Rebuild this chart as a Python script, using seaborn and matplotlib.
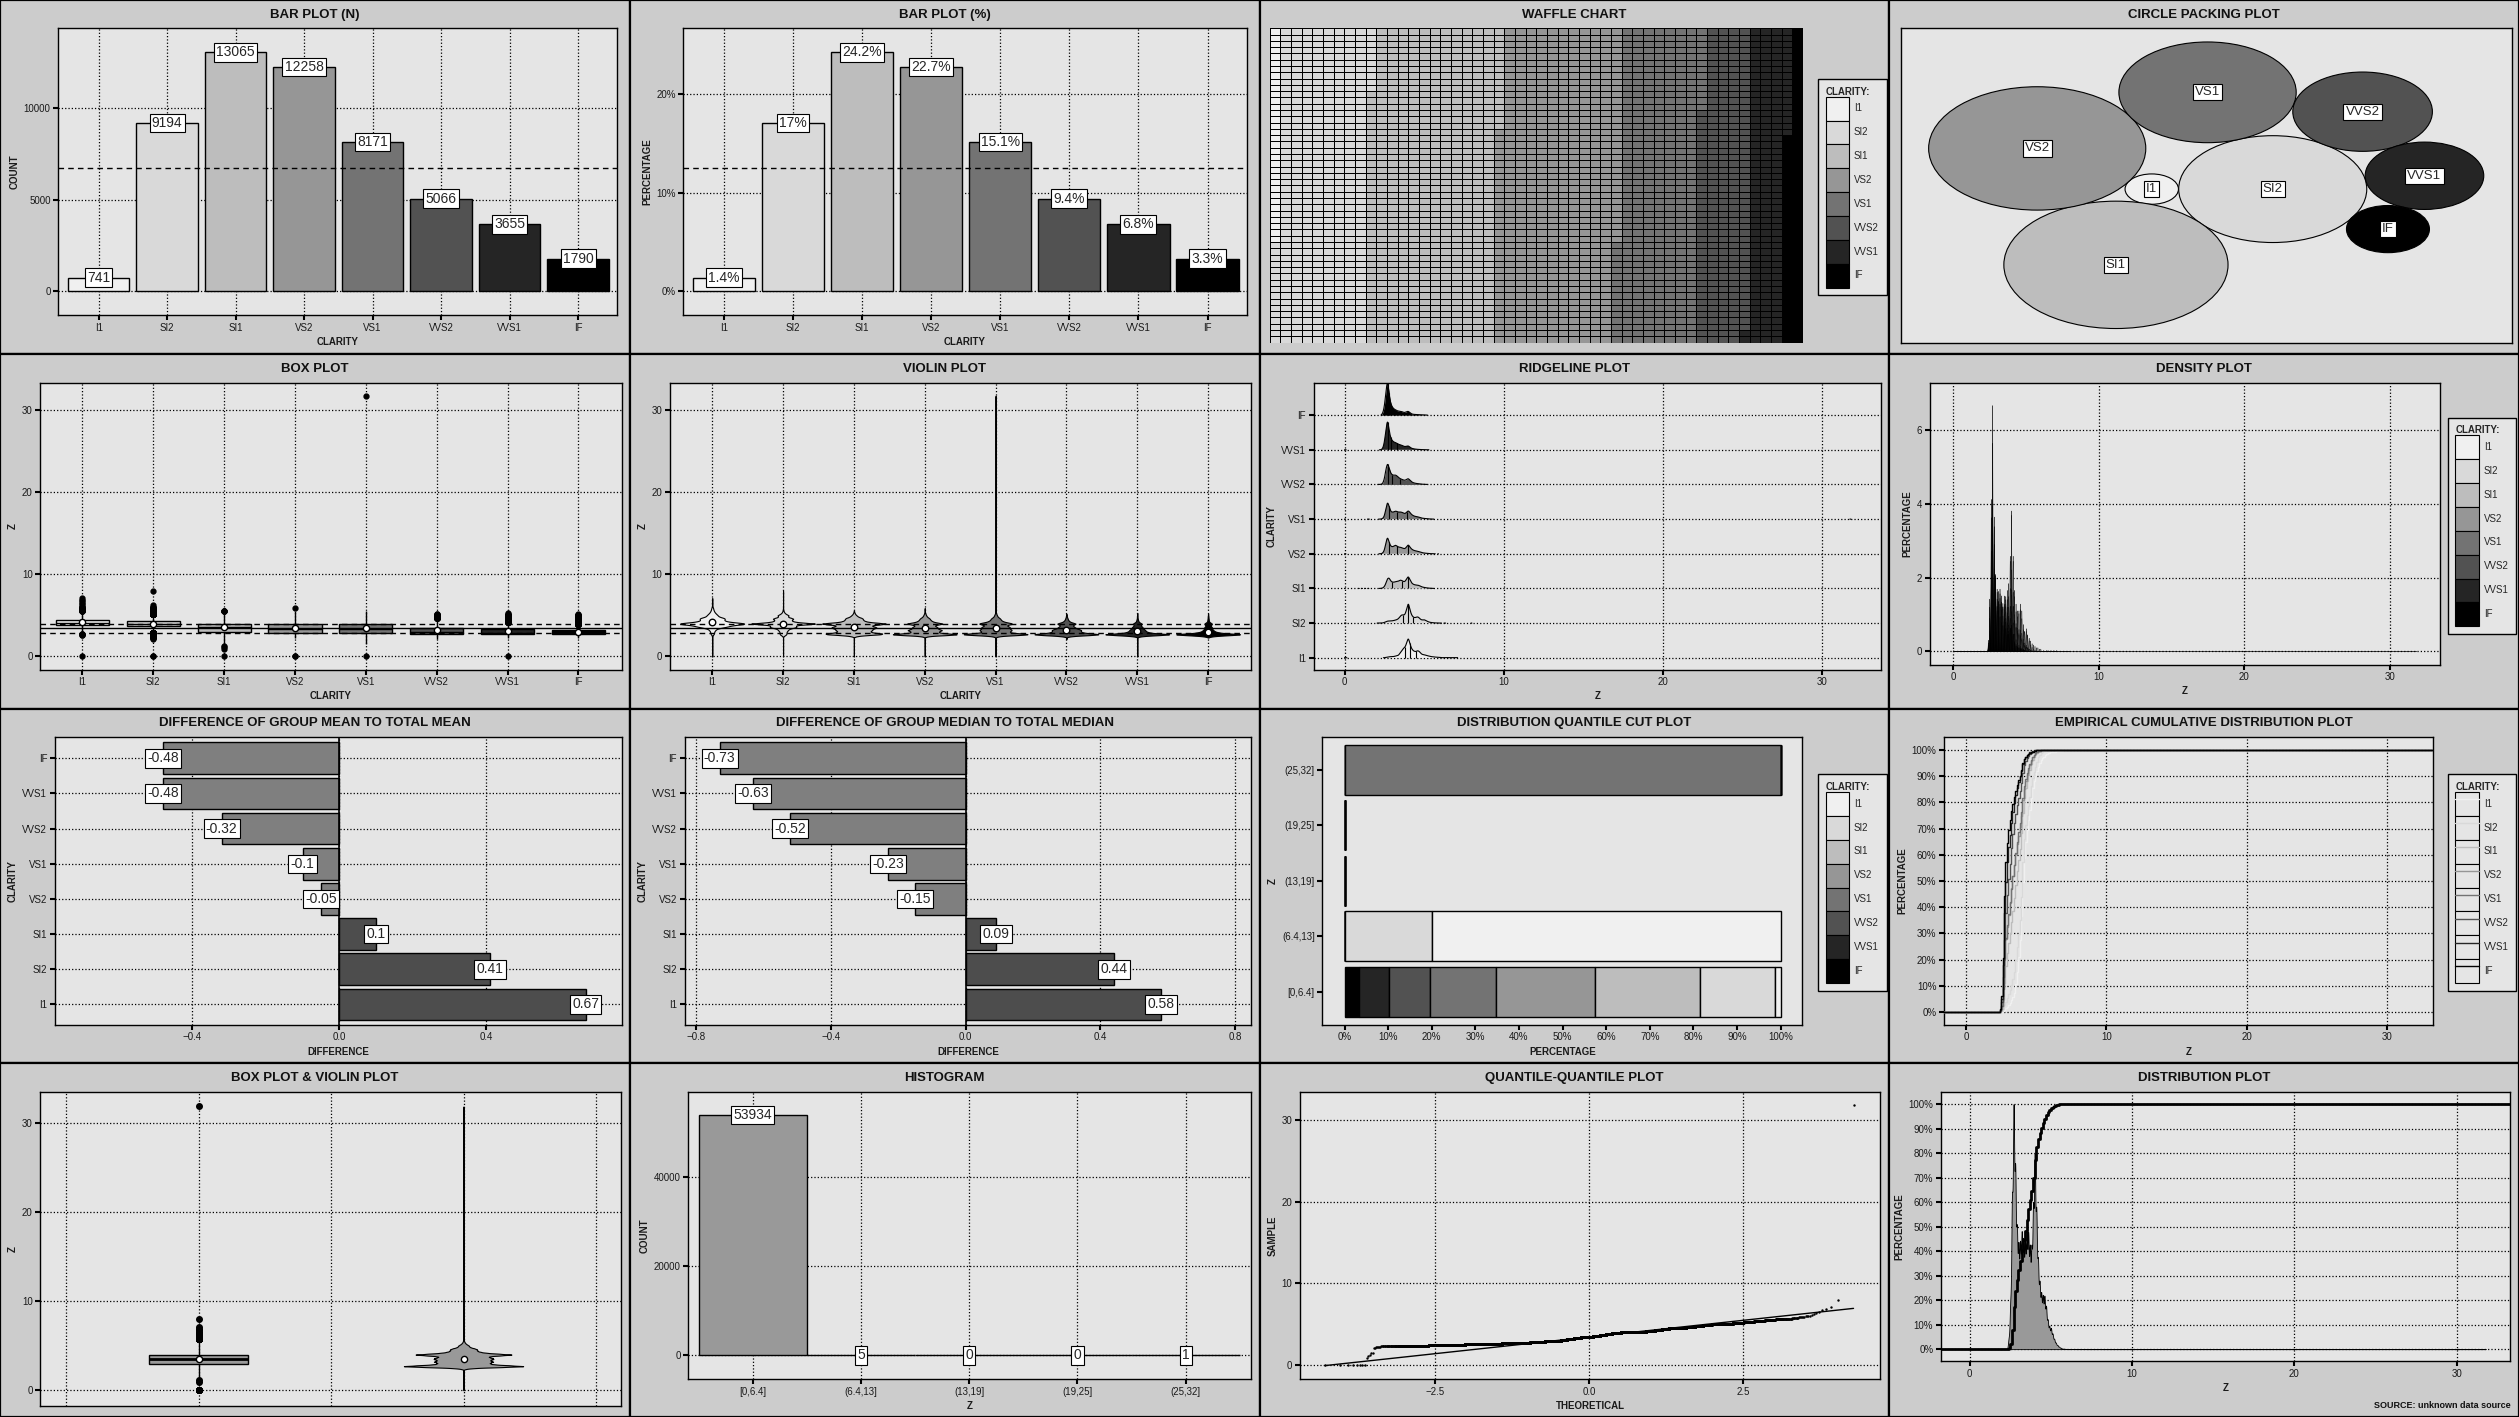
"""
    Sixteen-panel overview of diamond depth (z) broken down by clarity.
"""
import statistics

import matplotlib.pyplot as plt
import numpy as np
import pandas as pd
import seaborn as sns
from matplotlib.colors import ListedColormap
from matplotlib.lines import Line2D
from matplotlib.patches import Circle, Patch, Rectangle
from matplotlib.ticker import FuncFormatter

PANEL_BG = "#CCCCCC"
PLOT_BG = "#E5E5E5"

sns.set_theme(
    style="whitegrid",
    rc={
        "axes.facecolor": PLOT_BG,
        "figure.facecolor": PANEL_BG,
        "axes.edgecolor": "black",
        "axes.linewidth": 1.0,
        "grid.color": "black",
        "grid.linestyle": ":",
        "grid.linewidth": 0.9,
        "xtick.bottom": True,
        "ytick.left": True,
    },
)
plt.rcParams["font.family"] = ["Liberation Sans", "DejaVu Sans"]

CLARITY = ["I1", "SI2", "SI1", "VS2", "VS1", "VVS2", "VVS1", "IF"]
GREYS = ["#F0F0F0", "#D9D9D9", "#BDBDBD", "#969696", "#737373", "#525252", "#252525", "#000000"]

# diamonds per clarity (I1 .. IF) inside each z interval
Z_BINS = ["[0,6.4]", "(6.4,13]", "(13,19]", "(19,25]", "(25,32]"]
N_BIN1 = [737, 9193, 13065, 12258, 8170, 5066, 3655, 1790]
N_BIN2 = [4, 1, 0, 0, 0, 0, 0, 0]
N_BIN3 = [0, 0, 0, 0, 0, 0, 0, 0]
N_BIN4 = [0, 0, 0, 0, 0, 0, 0, 0]
N_BIN5 = [0, 0, 0, 0, 1, 0, 0, 0]

MEAN_DIFF = [0.67, 0.41, 0.1, -0.05, -0.1, -0.32, -0.48, -0.48]
MEDIAN_DIFF = [0.58, 0.44, 0.09, -0.15, -0.23, -0.52, -0.63, -0.73]

# approximate z counts on a 0.1 mm grid, read off the ridgelines and boxes
Z_GRID = [2.4, 2.5, 2.6, 2.7, 2.8, 2.9, 3.0, 3.1, 3.2, 3.3,
          3.4, 3.5, 3.6, 3.7, 3.8, 3.9, 4.0, 4.1, 4.2, 4.3,
          4.4, 4.5, 4.6, 4.7, 4.8, 4.9, 5.0, 5.1, 5.2, 5.3,
          5.4, 5.5, 5.6, 5.7, 5.8, 5.9, 6.0]
Z_I1 = [0, 0, 2, 3, 5, 5, 5, 6, 8, 10,
        12, 25, 35, 45, 50, 70, 100, 70, 45, 35,
        30, 30, 35, 30, 20, 15, 15, 12, 10, 8,
        6, 5, 4, 3, 3, 2, 2]
Z_SI2 = [10, 40, 90, 130, 140, 140, 150, 170, 200, 230,
         300, 450, 550, 520, 550, 900, 1400, 900, 550, 400,
         350, 380, 420, 330, 220, 200, 230, 170, 110, 70,
         45, 30, 18, 10, 6, 3, 2]
Z_SI1 = [40, 150, 450, 900, 950, 650, 550, 550, 600, 600,
         650, 750, 700, 600, 600, 850, 1100, 800, 500, 380,
         320, 300, 290, 250, 170, 120, 90, 60, 40, 25,
         15, 8, 4, 0, 0, 0, 0]
Z_VS2 = [60, 250, 900, 1400, 900, 600, 550, 600, 700, 600,
         520, 520, 480, 420, 400, 550, 750, 550, 380, 300,
         250, 220, 200, 160, 110, 80, 60, 45, 30, 20,
         12, 6, 3, 0, 0, 1, 0]
Z_VS1 = [40, 150, 600, 1000, 700, 420, 380, 400, 450, 420,
         380, 400, 380, 330, 300, 380, 480, 380, 260, 200,
         160, 140, 130, 100, 70, 50, 40, 30, 20, 12,
         8, 4, 0, 0, 0, 0, 0]
Z_VVS2 = [30, 150, 450, 650, 480, 330, 280, 270, 280, 250,
          200, 170, 150, 130, 120, 150, 180, 130, 80, 55,
          40, 30, 25, 18, 12, 8, 5, 3, 2, 0,
          0, 0, 0, 0, 0, 0, 0]
Z_VVS1 = [30, 150, 450, 700, 420, 260, 200, 170, 160, 140,
          120, 110, 100, 80, 70, 80, 90, 60, 35, 25,
          18, 14, 10, 8, 6, 4, 3, 2, 1, 1,
          0, 0, 0, 0, 0, 0, 0]
Z_IF = [20, 90, 260, 420, 230, 130, 90, 70, 60, 50,
        45, 45, 40, 30, 30, 40, 45, 30, 15, 10,
        8, 7, 6, 5, 4, 3, 2, 2, 1, 0,
        0, 0, 0, 0, 0, 0, 0]

# single values off the grid (zeros, low and high outliers)
OUT_I1 = [0.0, 6.2, 6.4, 6.5, 6.7, 6.9, 7.1]
OUT_SI2 = [0.0, 0.0, 2.1, 2.2, 2.3, 6.3, 8.0]
OUT_SI1 = [0.0, 0.9, 1.1, 1.3, 1.5, 2.2, 2.3]
OUT_VS2 = [0.0, 0.0, 2.2, 2.3]
OUT_VS1 = [0.0, 1.5, 2.2, 2.3, 31.8]
OUT_VVS2 = [2.1, 2.2, 2.3]
OUT_VVS1 = [0.0, 2.3]
OUT_IF = [2.3]

# circle packing layout (centres in plot units)
CIRCLE_X = [144.5, 214.1, 123.9, 78.6, 176.6, 265.8, 301.4, 280.4]
CIRCLE_Y = [155.4, 155.4, 78.7, 196.6, 253.4, 233.8, 168.9, 114.9]

TITLES = [
    "BAR PLOT (N)", "BAR PLOT (%)", "WAFFLE CHART", "CIRCLE PACKING PLOT",
    "BOX PLOT", "VIOLIN PLOT", "RIDGELINE PLOT", "DENSITY PLOT",
    "DIFFERENCE OF GROUP MEAN TO TOTAL MEAN", "DIFFERENCE OF GROUP MEDIAN TO TOTAL MEDIAN",
    "DISTRIBUTION QUANTILE CUT PLOT", "EMPIRICAL CUMULATIVE DISTRIBUTION PLOT",
    "BOX PLOT & VIOLIN PLOT", "HISTOGRAM", "QUANTILE-QUANTILE PLOT", "DISTRIBUTION PLOT",
]

# ---------------------------------------------------------------- derived data
table = np.array([N_BIN1, N_BIN2, N_BIN3, N_BIN4, N_BIN5]).T  # clarity x bin
counts = table.sum(axis=1)
total = counts.sum()
share = counts / total
hist_counts = table.sum(axis=0)

z_counts = [Z_I1, Z_SI2, Z_SI1, Z_VS2, Z_VS1, Z_VVS2, Z_VVS1, Z_IF]
z_out = [OUT_I1, OUT_SI2, OUT_SI1, OUT_VS2, OUT_VS1, OUT_VVS2, OUT_VVS1, OUT_IF]
frames = []
for c, zc, zo in zip(CLARITY, z_counts, z_out):
    z = np.concatenate([np.repeat(Z_GRID, zc), zo])
    frames.append(pd.DataFrame({"clarity": c, "z": z}))
df = pd.concat(frames, ignore_index=True)
groups = {c: df.loc[df["clarity"] == c, "z"].to_numpy() for c in CLARITY}
z_all = np.sort(df["z"].to_numpy())
z_mean = z_all.mean()
z_q1, z_q3 = np.quantile(z_all, [0.25, 0.75])
group_means = [groups[c].mean() for c in CLARITY]


def kde(values, x, bw):
    u, w = np.unique(values, return_counts=True)
    k = np.exp(-0.5 * ((x[:, None] - u[None, :]) / bw) ** 2)
    return k @ w / (w.sum() * bw * np.sqrt(2 * np.pi))


# ---------------------------------------------------------------- layout
W = H = 0.25
fig = plt.figure(figsize=(25.19, 14.17), dpi=100)


def cell_origin(r, c):
    return c * W, 1 - (r + 1) * H


def panel(r, c, left, right, top, bottom):
    x0, y0 = cell_origin(r, c)
    ax = fig.add_axes([x0 + left * W, y0 + (1 - bottom) * H, (right - left) * W, (bottom - top) * H])
    ax.set_facecolor(PLOT_BG)
    for s in ax.spines.values():
        s.set_visible(True)
        s.set_color("black")
        s.set_linewidth(1.0)
    return ax


def finish(ax, grid=True):
    ax.tick_params(axis="both", which="major", length=3.5, width=1.5, color="black",
                   labelsize=7, labelcolor="#1A1A1A", pad=2, bottom=True, left=True)
    if grid:
        ax.grid(True, which="major", linestyle=":", color="black", linewidth=0.9)
    else:
        ax.grid(False)
    ax.set_axisbelow(True)


def names(ax, xlabel, ylabel):
    ax.set_xlabel(xlabel, fontsize=7, fontweight="bold", color="#1A1A1A", labelpad=3)
    ax.set_ylabel(ylabel, fontsize=7, fontweight="bold", color="#1A1A1A", labelpad=3)


def tag(ax, x, y, s, size=10):
    ax.text(x, y, s, ha="center", va="center", fontsize=size, zorder=8,
            bbox=dict(boxstyle="square,pad=0.16", facecolor="white", edgecolor="black", linewidth=0.8))


def clarity_legend(r, c, top, handles):
    x0, y0 = cell_origin(r, c)
    leg = fig.legend(handles, CLARITY, loc="upper left",
                     bbox_to_anchor=(x0 + 0.879 * W, y0 + (1 - top) * H),
                     title="CLARITY:", alignment="left", fontsize=7,
                     title_fontproperties={"weight": "bold", "size": 7},
                     handlelength=2.4, handleheight=3.4, labelspacing=0, handletextpad=0.5,
                     borderpad=0.8, frameon=True, fancybox=False, edgecolor="black",
                     facecolor=PLOT_BG, framealpha=1)
    leg.get_frame().set_linewidth(1)


pct = FuncFormatter(lambda v, _: f"{v * 100:.0f}%")
patch_handles = [Patch(facecolor=g, edgecolor="black", linewidth=0.8) for g in GREYS]

for idx, title in enumerate(TITLES):
    r, c = divmod(idx, 4)
    x0, y0 = cell_origin(r, c)
    fig.add_artist(Rectangle((x0, y0), W, H, transform=fig.transFigure, facecolor=PANEL_BG,
                             edgecolor="black", linewidth=1.6, zorder=-5))
    fig.text(x0 + W / 2, y0 + H - 0.042 * H, title, ha="center", va="center",
             fontsize=9.5, fontweight="bold", color="#111111")

# 1 bar plot (n)
ax = panel(0, 0, 0.0925, 0.98, 0.08, 0.89)
sns.barplot(x=CLARITY, y=counts, hue=CLARITY, palette=GREYS, saturation=1, width=0.9,
            edgecolor="black", linewidth=1, legend=False, ax=ax)
ax.axhline(counts.mean(), color="black", linestyle=(0, (4, 3)), linewidth=1, zorder=4)
for i, n in enumerate(counts):
    tag(ax, i, n, f"{n}")
ax.set_xlim(-0.59, 7.57)
ax.set_ylim(-1314, 14380)
ax.set_yticks([0, 5000, 10000])
finish(ax)
names(ax, "CLARITY", "COUNT")

# 2 bar plot (%)
ax = panel(0, 1, 0.085, 0.98, 0.08, 0.89)
sns.barplot(x=CLARITY, y=share, hue=CLARITY, palette=GREYS, saturation=1, width=0.9,
            edgecolor="black", linewidth=1, legend=False, ax=ax)
ax.axhline(share.mean(), color="black", linestyle=(0, (4, 3)), linewidth=1, zorder=4)
for i, p in enumerate(share):
    tag(ax, i, p, f"{round(p * 100, 1):g}%")
ax.set_xlim(-0.59, 7.57)
ax.set_ylim(-0.0244, 0.2666)
ax.set_yticks([0, 0.1, 0.2])
ax.yaxis.set_major_formatter(pct)
finish(ax)
names(ax, "CLARITY", "PERCENTAGE")

# 3 waffle chart
ax = panel(0, 2, 0.016, 0.863, 0.08, 0.967)
bounds = np.round(np.cumsum(counts) / total * 2500).astype(int)
cells = np.searchsorted(bounds, np.arange(2500), side="right").reshape(50, 50).T
sns.heatmap(cells, cmap=ListedColormap(GREYS), vmin=-0.5, vmax=7.5, cbar=False,
            linewidths=0.5, linecolor="black", xticklabels=False, yticklabels=False, ax=ax)
ax.tick_params(length=0)
clarity_legend(0, 2, 0.209, patch_handles)

# 4 circle packing
ax = panel(0, 3, 0.018, 0.989, 0.08, 0.967)
radii = np.sqrt(counts / np.pi)
for i, cl in enumerate(CLARITY):
    ax.add_patch(Circle((CIRCLE_X[i], CIRCLE_Y[i]), radii[i], facecolor=GREYS[i],
                        edgecolor="black", linewidth=0.8))
    tag(ax, CIRCLE_X[i], CIRCLE_Y[i], cl, size=9.5)
ax.set_xlim(0, 351.8)
ax.set_ylim(0, 318.2)
ax.set_xticks([])
ax.set_yticks([])
ax.grid(False)

# 5 box plot
ax = panel(1, 0, 0.064, 0.987, 0.08, 0.89)
sns.boxplot(data=df, x="clarity", y="z", hue="clarity", order=CLARITY, hue_order=CLARITY,
            palette=GREYS, saturation=1, width=0.75, linewidth=1, linecolor="black",
            fliersize=3.5, showcaps=False, legend=False, ax=ax,
            flierprops={"marker": "o", "markerfacecolor": "black", "markeredgecolor": "black"})
ax.scatter(range(8), group_means, s=20, color="white", edgecolors="black", linewidths=1, zorder=7)
ax.axhline(z_mean, color="black", linewidth=1, zorder=6)
ax.axhline(z_q1, color="black", linestyle=(0, (4, 3)), linewidth=1, zorder=6)
ax.axhline(z_q3, color="black", linestyle=(0, (4, 3)), linewidth=1, zorder=6)
ax.set_xlim(-0.595, 7.61)
ax.set_ylim(-1.6, 33.4)
ax.set_yticks([0, 10, 20, 30])
finish(ax)
names(ax, "CLARITY", "Z")

# 6 violin plot
ax = panel(1, 1, 0.064, 0.987, 0.08, 0.89)
sns.violinplot(data=df, x="clarity", y="z", hue="clarity", order=CLARITY, hue_order=CLARITY,
               palette=GREYS, saturation=1, inner=None, cut=0, gridsize=2000, bw_adjust=0.55,
               density_norm="width", width=0.9, linewidth=0.8, linecolor="black",
               legend=False, ax=ax)
ax.scatter(range(8), group_means, s=22, color="white", edgecolors="black", linewidths=1, zorder=7)
ax.axhline(z_mean, color="black", linewidth=1, zorder=6)
ax.axhline(z_q1, color="black", linestyle=(0, (4, 3)), linewidth=1, zorder=6)
ax.axhline(z_q3, color="black", linestyle=(0, (4, 3)), linewidth=1, zorder=6)
ax.set_xlim(-0.595, 7.61)
ax.set_ylim(-1.6, 33.4)
ax.set_yticks([0, 10, 20, 30])
finish(ax)
names(ax, "CLARITY", "Z")

# 7 ridgeline plot
ax = panel(1, 2, 0.086, 0.987, 0.08, 0.89)
curves = []
for cl in CLARITY:
    v = groups[cl]
    x = np.linspace(v.min(), v.max(), 6000)
    curves.append((x, kde(v, x, 0.06)))
scale = 0.93 / max(d.max() for _, d in curves)
for i, (cl, (x, d)) in enumerate(zip(CLARITY, curves)):
    h = d * scale
    hm = np.where(h > 2e-4, h, np.nan)
    ax.fill_between(x, i, i + hm, color=GREYS[i], linewidth=0, zorder=3)
    ax.plot(x, i + hm, color="black", linewidth=0.8, zorder=4)
    for q in np.quantile(groups[cl], [0.25, 0.5, 0.75]):
        ax.vlines(q, i, i + np.interp(q, x, h), color="black", linewidth=0.8, zorder=4)
ax.set_yticks(range(8), CLARITY)
ax.set_xticks([0, 10, 20, 30])
ax.set_xlim(-1.94, 33.7)
ax.set_ylim(-0.34, 7.94)
finish(ax)
names(ax, "Z", "CLARITY")

# 8 density plot
ax = panel(1, 3, 0.064, 0.874, 0.08, 0.876)
for i, cl in enumerate(CLARITY):
    v = groups[cl]
    x = np.linspace(v.min(), v.max(), 16000)
    ax.fill_between(x, 0, kde(v, x, 0.014), facecolor=GREYS[i], edgecolor="black",
                    linewidth=0.25, zorder=3)
ax.set_xticks([0, 10, 20, 30])
ax.set_yticks([0, 2, 4, 6])
ax.set_xlim(-1.6, 33.4)
ax.set_ylim(-0.36, 7.3)
finish(ax)
names(ax, "Z", "PERCENTAGE")
clarity_legend(1, 3, 0.165, patch_handles)


# 9 / 10 difference plots
def diff_panel(col, values, xlim, xticks):
    ax = panel(2, col, 0.087, 0.987, 0.08, 0.893)
    order = CLARITY[::-1]
    vals = dict(zip(CLARITY, values))
    pal = {cl: ("#4D4D4D" if vals[cl] > 0 else "#7F7F7F") for cl in CLARITY}
    sns.barplot(x=[vals[cl] for cl in order], y=order, hue=order, order=order, palette=pal,
                orient="h", width=0.9, saturation=1, edgecolor="black", linewidth=1,
                legend=False, ax=ax)
    ax.axvline(0, color="black", linewidth=1.2, zorder=4)
    for i, cl in enumerate(order):
        tag(ax, vals[cl], i, f"{vals[cl]:g}")
    ax.set_xlim(*xlim)
    ax.set_ylim(7.58, -0.61)
    ax.set_xticks(xticks)
    finish(ax)
    names(ax, "DIFFERENCE", "CLARITY")


diff_panel(0, MEAN_DIFF, (-0.774, 0.768), [-0.4, 0.0, 0.4])
diff_panel(1, MEDIAN_DIFF, (-0.834, 0.848), [-0.8, -0.4, 0.0, 0.4, 0.8])

# 11 distribution quantile cut plot
ax = panel(2, 2, 0.10, 0.862, 0.08, 0.893)
col_tot = table.sum(axis=0).astype(float)
prop = np.divide(table, col_tot, out=np.zeros(table.shape), where=col_tot > 0)
left = np.zeros(len(Z_BINS))
for i in range(len(CLARITY) - 1, -1, -1):
    ax.barh(range(len(Z_BINS)), prop[i], left=left, height=0.9, color=GREYS[i],
            edgecolor="black", linewidth=1, zorder=3)
    left += prop[i]
ax.set_yticks(range(len(Z_BINS)), Z_BINS)
ax.set_xticks(np.arange(0, 11) / 10)
ax.xaxis.set_major_formatter(pct)
ax.set_xlim(-0.0506, 1.05)
ax.set_ylim(-0.59, 4.59)
finish(ax, grid=False)
names(ax, "PERCENTAGE", "Z")
clarity_legend(2, 2, 0.172, patch_handles)

# 12 ecdf
ax = panel(2, 3, 0.087, 0.864, 0.08, 0.893)
xl = (-1.58, 33.3)
for i, cl in enumerate(CLARITY):
    u, w = np.unique(groups[cl], return_counts=True)
    ax.step(np.r_[xl[0], u, xl[1]], np.r_[0, np.cumsum(w) / w.sum(), 1], where="post",
            color=GREYS[i], linewidth=1, zorder=3)
ax.set_xticks([0, 10, 20, 30])
ax.set_yticks(np.arange(0, 11) / 10)
ax.yaxis.set_major_formatter(pct)
ax.set_xlim(*xl)
ax.set_ylim(-0.0483, 1.0496)
finish(ax)
names(ax, "Z", "PERCENTAGE")
line_handles = [(Patch(facecolor=PLOT_BG, edgecolor="black", linewidth=0.8),
                 Line2D([], [], color=g, linewidth=1)) for g in GREYS]
clarity_legend(2, 3, 0.172, line_handles)

# 13 box plot & violin plot
ax = panel(3, 0, 0.064, 0.986, 0.083, 0.97)
ax.boxplot(z_all, positions=[1], widths=0.37, patch_artist=True, showcaps=False,
           manage_ticks=False,
           boxprops={"facecolor": "#999999", "edgecolor": "black", "linewidth": 1},
           medianprops={"color": "black", "linewidth": 2},
           whiskerprops={"color": "black", "linewidth": 1},
           flierprops={"marker": "o", "markerfacecolor": "black", "markeredgecolor": "black",
                       "markersize": 4})
vp = ax.violinplot(z_all, positions=[2], widths=0.45, showextrema=False, bw_method=0.07,
                   points=4000)
for body in vp["bodies"]:
    body.set_facecolor("#999999")
    body.set_edgecolor("black")
    body.set_linewidth(0.8)
    body.set_alpha(1)
ax.scatter([1, 2], [z_mean, z_mean], s=20, color="white", edgecolors="black",
           linewidths=1, zorder=7)
ax.set_xticks([1, 2], ["", ""])
ax.set_xticks([0.5, 1.5, 2.5], minor=True)
ax.set_yticks([0, 10, 20, 30])
ax.set_xlim(0.403, 2.594)
ax.set_ylim(-1.8, 33.4)
finish(ax)
ax.grid(True, which="minor", axis="x", linestyle=":", color="black", linewidth=0.9)
ax.tick_params(axis="x", which="both", length=0)
names(ax, "", "Z")

# 14 histogram
ax = panel(3, 1, 0.093, 0.986, 0.083, 0.893)
sns.barplot(x=Z_BINS, y=hist_counts, color="#999999", saturation=1, width=1,
            edgecolor="black", linewidth=1, ax=ax)
for i, n in enumerate(hist_counts):
    tag(ax, i, n, f"{n}")
ax.set_yticks([0, 20000, 40000])
ax.set_xlim(-0.595, 4.6)
ax.set_ylim(-5320, 59100)
finish(ax)
names(ax, "Z", "COUNT")

# 15 quantile-quantile plot
ax = panel(3, 2, 0.064, 0.986, 0.083, 0.893)
n_all = z_all.size
nd = statistics.NormalDist()
theo = np.array([nd.inv_cdf((k + 0.5) / n_all) for k in range(n_all)])
sns.scatterplot(x=theo, y=z_all, s=3, color="black", linewidth=0, zorder=3, ax=ax)
t25, t75 = nd.inv_cdf(0.25), nd.inv_cdf(0.75)
slope = (z_q3 - z_q1) / (t75 - t25)
icpt = z_q1 - slope * t25
ends = np.array([theo[0], theo[-1]])
ax.plot(ends, icpt + slope * ends, color="black", linewidth=1, zorder=4)
ax.set_xticks([-2.5, 0.0, 2.5])
ax.set_yticks([0, 10, 20, 30])
ax.set_xlim(-4.70, 4.73)
ax.set_ylim(-1.7, 33.4)
finish(ax)
names(ax, "THEORETICAL", "SAMPLE")

# 16 distribution plot
ax = panel(3, 3, 0.082, 0.986, 0.083, 0.843)
xs = np.linspace(z_all.min(), z_all.max(), 16000)
dens = kde(z_all, xs, 0.04)
ax.fill_between(xs, 0, dens / dens.max(), facecolor="#999999", edgecolor="black",
                linewidth=0.6, zorder=3)
xl = (-1.78, 33.3)
u, w = np.unique(z_all, return_counts=True)
ax.step(np.r_[xl[0], u, xl[1]], np.r_[0, np.cumsum(w) / w.sum(), 1], where="post",
        color="black", linewidth=2, zorder=4)
ax.set_xticks([0, 10, 20, 30])
ax.set_yticks(np.arange(0, 11) / 10)
ax.yaxis.set_major_formatter(pct)
ax.set_xlim(*xl)
ax.set_ylim(-0.05, 1.049)
finish(ax)
names(ax, "Z", "PERCENTAGE")
x0, y0 = cell_origin(3, 3)
fig.text(x0 + 0.986 * W, y0 + (1 - 0.968) * H, "SOURCE: unknown data source",
         ha="right", va="center", fontsize=6.5, fontweight="bold", color="#111111")

fig.savefig("out.png", dpi=100, facecolor=PANEL_BG)
